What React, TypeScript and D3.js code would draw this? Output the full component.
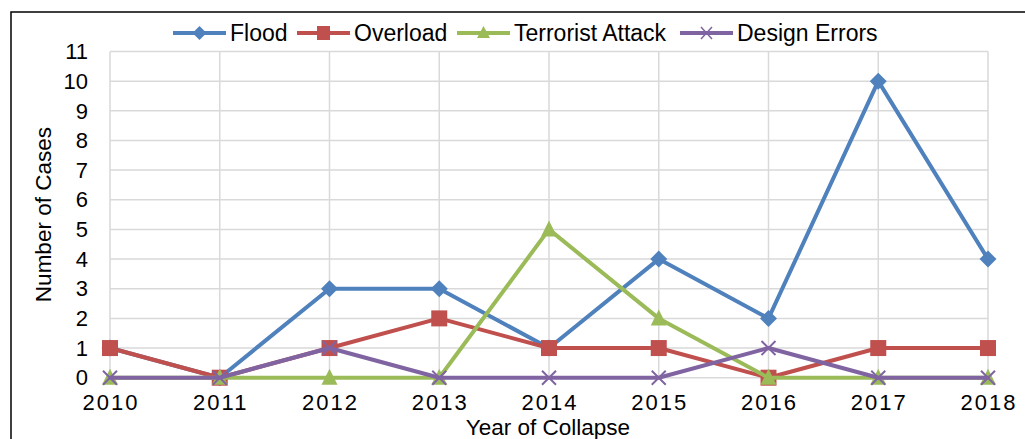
import React, { useEffect, useRef } from "react";
import * as d3 from "d3";

const years = ["2010", "2011", "2012", "2013", "2014", "2015", "2016", "2017", "2018"];
const flood = [1, 0, 3, 3, 1, 4, 2, 10, 4];
const overload = [1, 0, 1, 2, 1, 1, 0, 1, 1];
const terrorist = [0, 0, 0, 0, 5, 2, 0, 0, 0];
const designErrors = [0, 0, 1, 0, 0, 0, 1, 0, 0];
const yTicks = [0, 1, 2, 3, 4, 5, 6, 7, 8, 9, 10, 11];

const seriesNames = ["Flood", "Overload", "Terrorist Attack", "Design Errors"];
const seriesColors = ["#4F81BD", "#C0504D", "#9BBB59", "#8064A2"];
const seriesMarkers = ["diamond", "square", "triangle", "x"];
const seriesValues = [flood, overload, terrorist, designErrors];

const W = 1025;
const H = 439;
const FONT = "'Liberation Sans', Arial, sans-serif";

function drawMarker(g: any, kind: string, x: number, y: number, color: string) {
  if (kind === "diamond") {
    g.append("path")
      .attr("d", `M${x},${y - 8.5}L${x + 8.5},${y}L${x},${y + 8.5}L${x - 8.5},${y}Z`)
      .attr("fill", color);
  } else if (kind === "square") {
    g.append("rect").attr("x", x - 8).attr("y", y - 8).attr("width", 16).attr("height", 16).attr("fill", color);
  } else if (kind === "triangle") {
    g.append("path")
      .attr("d", `M${x},${y - 9}L${x + 8},${y + 7}L${x - 8},${y + 7}Z`)
      .attr("fill", color);
  } else {
    g.append("path")
      .attr("d", `M${x - 7},${y - 7}L${x + 7},${y + 7}M${x - 7},${y + 7}L${x + 7},${y - 7}`)
      .attr("stroke", color)
      .attr("stroke-width", 2)
      .attr("fill", "none");
  }
}

export default function App() {
  const ref = useRef<SVGSVGElement>(null);

  useEffect(() => {
    const svg = d3.select(ref.current);
    svg.selectAll("*").remove();

    const left = 110, right = 988, top = 51.5, bottom = 377.7;
    const x = d3.scalePoint<string>().domain(years).range([left, right]);
    const y = d3.scaleLinear().domain([0, 11]).range([bottom, top]);

    svg.append("rect").attr("width", W).attr("height", H).attr("fill", "#fff");
    svg.append("rect")
      .attr("x", 11).attr("y", 12).attr("width", 1100).attr("height", 600)
      .attr("fill", "none").attr("stroke", "#000").attr("stroke-width", 1.5);

    const grid = svg.append("g");
    yTicks.forEach((t) => {
      grid.append("line")
        .attr("x1", left).attr("x2", right).attr("y1", y(t)).attr("y2", y(t))
        .attr("stroke", "#d9d9d9").attr("stroke-width", 1.5);
    });
    years.forEach((yr) => {
      grid.append("line")
        .attr("x1", x(yr)!).attr("x2", x(yr)!).attr("y1", top).attr("y2", bottom)
        .attr("stroke", "#d9d9d9").attr("stroke-width", 1.5);
    });

    const yAxis = svg.append("g");
    yTicks.forEach((t) => {
      yAxis.append("text")
        .attr("x", 88).attr("y", y(t)).attr("dy", "0.35em")
        .attr("text-anchor", "end")
        .attr("font-family", FONT).attr("font-size", 22).attr("fill", "#000")
        .text(String(t));
    });

    const xAxis = svg.append("g");
    years.forEach((yr) => {
      xAxis.append("text")
        .attr("x", x(yr)! + 1).attr("y", 410)
        .attr("text-anchor", "middle")
        .attr("font-family", FONT).attr("font-size", 22).attr("fill", "#000")
        .attr("letter-spacing", 2)
        .text(yr);
    });

    svg.append("text")
      .attr("transform", `translate(51,${(top + bottom) / 2}) rotate(-90)`)
      .attr("text-anchor", "middle")
      .attr("font-family", FONT).attr("font-size", 22.5).attr("fill", "#000")
      .text("Number of Cases");

    svg.append("text")
      .attr("x", 548).attr("y", 435)
      .attr("text-anchor", "middle")
      .attr("font-family", FONT).attr("font-size", 22.5).attr("fill", "#000")
      .text("Year of Collapse");

    const line = d3.line<number>().x((_, i) => x(years[i])!).y((d) => y(d));

    seriesValues.forEach((vals, si) => {
      const g = svg.append("g");
      g.append("path")
        .attr("d", line(vals)!)
        .attr("fill", "none")
        .attr("stroke", seriesColors[si])
        .attr("stroke-width", 4)
        .attr("stroke-linejoin", "round")
        .attr("stroke-linecap", "round");
      vals.forEach((v, i) => drawMarker(g, seriesMarkers[si], x(years[i])!, y(v), seriesColors[si]));
    });

    // legend
    const legendX = [173, 297, 457, 680];
    const lg = svg.append("g");
    seriesNames.forEach((name, si) => {
      const lx = legendX[si];
      const ly = 33;
      lg.append("line")
        .attr("x1", lx).attr("x2", lx + 53).attr("y1", ly).attr("y2", ly)
        .attr("stroke", seriesColors[si]).attr("stroke-width", 4);
      const mg = lg.append("g");
      if (seriesMarkers[si] === "diamond") {
        mg.append("path").attr("d", `M${lx + 26.5},${ly - 7}L${lx + 33.5},${ly}L${lx + 26.5},${ly + 7}L${lx + 19.5},${ly}Z`).attr("fill", seriesColors[si]);
      } else if (seriesMarkers[si] === "square") {
        mg.append("rect").attr("x", lx + 20).attr("y", ly - 7).attr("width", 13).attr("height", 14).attr("fill", seriesColors[si]);
      } else if (seriesMarkers[si] === "triangle") {
        mg.append("path").attr("d", `M${lx + 26.5},${ly - 7}L${lx + 33},${ly + 5}L${lx + 20},${ly + 5}Z`).attr("fill", seriesColors[si]);
      } else {
        mg.append("path").attr("d", `M${lx + 21},${ly - 6}L${lx + 32},${ly + 6}M${lx + 21},${ly + 6}L${lx + 32},${ly - 6}`).attr("stroke", seriesColors[si]).attr("stroke-width", 1.5);
      }
      lg.append("text")
        .attr("x", lx + 57).attr("y", ly).attr("dy", "0.36em")
        .attr("font-family", FONT).attr("font-size", 23).attr("fill", "#000")
        .text(name);
    });
  }, []);

  return (
    <svg
      ref={ref}
      width={W}
      height={H}
      style={{ position: "absolute", left: 0, top: 0, display: "block" }}
    />
  );
}
